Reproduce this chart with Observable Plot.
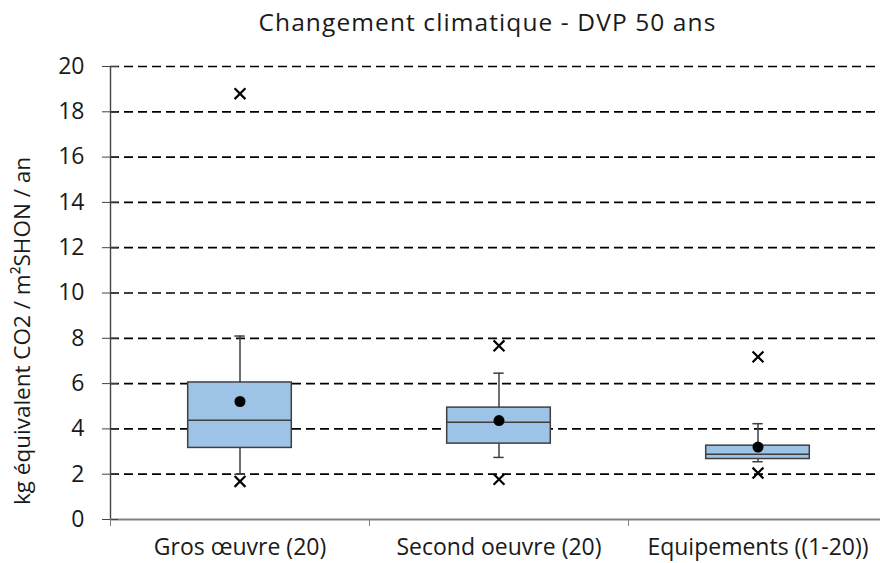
<!DOCTYPE html>
<html>
<head>
<meta charset="utf-8">
<script src="https://cdn.jsdelivr.net/npm/d3@7"></script>
<script src="https://cdn.jsdelivr.net/npm/@observablehq/plot@0.6"></script>
<style>
  html, body { margin: 0; padding: 0; background: #fff; overflow: hidden; }
  #title { height: 42px; line-height: 44px; font-family: "Open Sans", sans-serif; font-size: 24.5px; letter-spacing: 1.1px; color: #1a1a1a; padding-left: 95px; text-align: center; width: 785px; white-space: nowrap; }
</style>
</head>
<body>
<div id="title">Changement climatique - DVP 50 ans</div>
<div id="chart"></div>
<script>
const categories = ["Gros œuvre (20)", "Second oeuvre (20)", "Equipements ((1-20))"];
const q1 = [3.16, 3.35, 2.67];
const median = [4.38, 4.29, 2.88];
const q3 = [6.05, 4.94, 3.26];
const whiskerLow = [2.0, 2.74, 2.55];
const whiskerHigh = [8.1, 6.46, 4.23];
const mean = [5.21, 4.37, 3.20];
const outlierCategory = [0, 0, 1, 1, 2, 2];
const outlierValue = [18.8, 1.68, 7.67, 1.77, 7.18, 2.05];
const yTicks = [0, 2, 4, 6, 8, 10, 12, 14, 16, 18, 20];
const gridTicks = [2, 4, 6, 8, 10, 12, 14, 16, 18, 20];
const yLabel = "kg équivalent CO2 / m²SHON / an";

const boxes = categories.map((c, i) => ({
  i, c,
  x: i + 0.5, x1: i + 0.3, x2: i + 0.7, cx1: i + 0.48, cx2: i + 0.52,
  q1: q1[i], med: median[i], q3: q3[i], lo: whiskerLow[i], hi: whiskerHigh[i], mean: mean[i]
}));
const outliers = outlierCategory.map((k, j) => ({x: k + 0.5, y: outlierValue[j]}));

const boxStroke = "#3f3f3f";
const plot = Plot.plot({
  width: 880,
  height: 521,
  marginTop: 24,
  marginBottom: 44,
  marginLeft: 110,
  marginRight: 0,
  style: {fontFamily: "'Open Sans', sans-serif", fontSize: "20px", color: "#1a1a1a", background: "#fff"},
  x: {domain: [0, 3], range: [110, 887], axis: null},
  y: {domain: [0, 20], axis: null},
  marks: [
    Plot.ruleY(gridTicks, {x1: 0, x2: 3, stroke: "#000", strokeWidth: 1.7, strokeDasharray: "9,5"}),
    Plot.ruleX(boxes, {x: "x", y1: "q3", y2: "hi", stroke: boxStroke, strokeWidth: 1.5}),
    Plot.ruleX(boxes, {x: "x", y1: "lo", y2: "q1", stroke: boxStroke, strokeWidth: 1.5}),
    Plot.ruleY(boxes, {y: "hi", x1: "cx1", x2: "cx2", stroke: boxStroke, strokeWidth: 1.5}),
    Plot.ruleY(boxes, {y: "lo", x1: "cx1", x2: "cx2", stroke: boxStroke, strokeWidth: 1.5}),
    Plot.rect(boxes, {x1: "x1", x2: "x2", y1: "q1", y2: "q3", fill: "#9dc3e6", stroke: boxStroke, strokeWidth: 1.5}),
    Plot.ruleY(boxes, {y: "med", x1: "x1", x2: "x2", stroke: boxStroke, strokeWidth: 1.5}),
    Plot.dot(boxes, {x: "x", y: "mean", r: 5.5, fill: "#000", stroke: "none"}),
    Plot.dot(outliers, {x: "x", y: "y", symbol: "times", r: 5, stroke: "#000", strokeWidth: 2.2}),
    // axes
    Plot.ruleX([0], {stroke: "#444", strokeWidth: 1.4}),
    Plot.ruleY([0], {x1: 0, x2: 3, stroke: "#808080", strokeWidth: 1.8}),
    Plot.axisY({ticks: yTicks, tickSize: 8, tickPadding: 18, fontSize: 23, stroke: "#444", label: null}),
    Plot.axisY({ticks: yTicks, tickSize: 8, dx: 8, tickFormat: () => "", stroke: "#444", label: null}),
    Plot.axisX({ticks: [0, 1, 2, 3], tickSize: 7, tickFormat: () => "", stroke: "#808080", label: null}),
    Plot.axisX({ticks: [0.5, 1.5, 2.5], tickSize: 0, tickPadding: 19, tickFormat: d => categories[Math.round(d - 0.5)], fontSize: 23, label: null}),
    Plot.text([yLabel], {frameAnchor: "left", textAnchor: "middle", dx: -88, dy: 38, rotate: -90, fontSize: 22.5, fill: "#1a1a1a"})
  ]
});
document.getElementById("chart").appendChild(plot);
</script>
</body>
</html>
